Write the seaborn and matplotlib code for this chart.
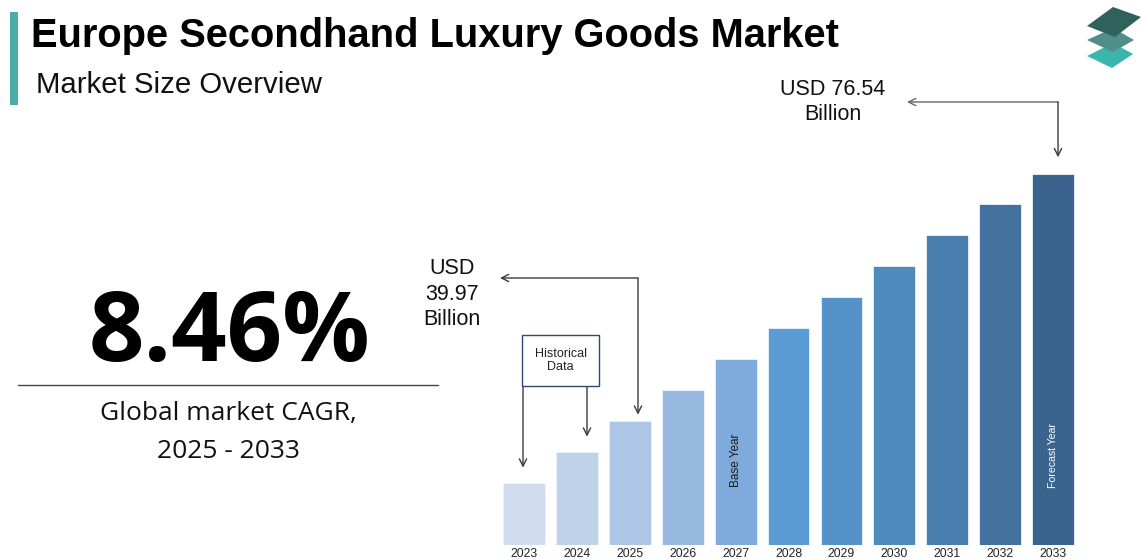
import matplotlib
matplotlib.use("Agg")
import matplotlib.pyplot as plt
from matplotlib.patches import Polygon, Rectangle
import seaborn as sns
import pandas as pd

# ---- data -------------------------------------------------------------
years = ["2023", "2024", "2025", "2026", "2027", "2028",
         "2029", "2030", "2031", "2032", "2033"]
market_size = [30.79, 35.38, 39.97, 44.56, 49.15, 53.74,
               58.33, 62.93, 67.52, 72.11, 76.54]   # USD billion
bar_colors = ["#D0DDEF", "#BED2EA", "#ADC6E6", "#97B9E0", "#7EABDB", "#5A9AD5",
              "#5592C9", "#4F8ABD", "#4A7EAE", "#43729E", "#3A648D"]
cagr_text = "8.46%"
cagr_caption = ["Global market CAGR,", "2025 - 2033"]
base_label = "USD\n39.97\nBillion"
forecast_label = "USD 76.54\nBillion"

df = pd.DataFrame({"year": years, "size": market_size})

W, H = 1142, 559
sns.set_theme(style="white")
plt.rcParams["font.family"] = ["Liberation Sans", "DejaVu Sans"]

fig = plt.figure(figsize=(W / 100, H / 100), dpi=100)
fig.patch.set_facecolor("white")


def fx(x):
    return x / W


def fy(y):
    return 1 - y / H


# ---- bar chart ----------------------------------------------------------
ax_left, ax_right, ax_bottom, ax_top = 497.6, 1079.5, 545, 100
y_floor, px_per_unit = 21.6, 6.754
ax = fig.add_axes([fx(ax_left), fy(ax_bottom), (ax_right - ax_left) / W,
                   (ax_bottom - ax_top) / H])
sns.barplot(data=df, x="year", y="size", hue="year", palette=bar_colors,
            legend=False, width=0.79, saturation=1, ax=ax,
            edgecolor="#EEF3FA", linewidth=0.6)
ax.set_ylim(y_floor, y_floor + (ax_bottom - ax_top) / px_per_unit)
ax.set_xlim(-0.5, len(years) - 0.5)
for s in ax.spines.values():
    s.set_visible(False)
ax.set_xlabel("")
ax.set_ylabel("")
ax.set_yticks([])
ax.tick_params(axis="x", length=0, pad=2, labelsize=8.7, labelcolor="#222222")
ax.set_facecolor("none")

# labels inside bars
ax.text(4, y_floor + (545 - 460) / px_per_unit, "Base Year", rotation=90,
        ha="center", va="center", fontsize=8.5, color="#1A1A1A")
ax.text(10, y_floor + (545 - 455) / px_per_unit, "Forecast Year", rotation=90,
        ha="center", va="center", fontsize=7.6, color="white")

arrow_kw = dict(arrowstyle="->", color="#3A3A3A", lw=1.0, mutation_scale=13,
                shrinkA=0)

# 2025 value callout
cx, cy = 638, H - 278
ax.annotate("", xy=(500, cy), xycoords="figure pixels", xytext=(cx, cy),
            textcoords="figure pixels", arrowprops=dict(arrow_kw, shrinkB=0))
ax.annotate("", xy=(cx, market_size[2]), xycoords=("figure pixels", "data"),
            xytext=(cx, cy), textcoords="figure pixels",
            arrowprops=dict(arrow_kw, shrinkB=4.5))
fig.text(fx(452), fy(294), base_label, ha="center", va="center",
         fontsize=15.5, linespacing=1.26, color="#111111")

# 2033 value callout
cx, cy = 1058, H - 102
ax.annotate("", xy=(907, cy), xycoords="figure pixels", xytext=(cx, cy),
            textcoords="figure pixels", arrowprops=dict(arrow_kw, shrinkB=0,
                                                        color="#666666"))
ax.annotate("", xy=(cx, market_size[10]), xycoords=("figure pixels", "data"),
            xytext=(cx, cy), textcoords="figure pixels",
            arrowprops=dict(arrow_kw, shrinkB=12))
fig.text(fx(833), fy(102), forecast_label, ha="center", va="center",
         fontsize=15.5, linespacing=1.3, color="#111111")

# historical data box
fig.patches.append(Rectangle((fx(522), fy(386)), fx(599) - fx(522),
                             fy(335) - fy(386), transform=fig.transFigure,
                             facecolor="white", edgecolor="#2E4A70", lw=1.0))
fig.text(fx(560.5), fy(360.5), "Historical\nData", ha="center", va="center",
         fontsize=9, linespacing=1.15, color="#222222")
for bx, idx in [(523, 0), (587, 1)]:
    ax.annotate("", xy=(bx, market_size[idx]), xycoords=("figure pixels", "data"),
                xytext=(bx, H - 386), textcoords="figure pixels",
                arrowprops=dict(arrow_kw, shrinkB=11))

# ---- header -----------------------------------------------------------------
fig.patches.append(Rectangle((fx(10), fy(105)), fx(8), fy(12) - fy(105),
                             transform=fig.transFigure, facecolor="#48ADA9",
                             edgecolor="none"))
fig.text(fx(31), fy(47), "Europe Secondhand Luxury Goods Market",
         ha="left", va="baseline", fontsize=28.7, fontweight="bold",
         color="#000000")
fig.text(fx(36), fy(93), "Market Size Overview", ha="left", va="baseline",
         fontsize=21.2, color="#111111")

# logo: stacked layers
layers = [
    ([(1087, 56), (1113, 43), (1133, 54), (1112, 68)], "#3DB5AF"),
    ([(1087, 40), (1113, 28), (1134, 40), (1113, 52)], "#4F8E89"),
    ([(1087, 26), (1113, 7), (1141, 17), (1115, 37)], "#2F625C"),
]
for pts, col in layers:
    fig.patches.append(Polygon([(fx(x), fy(y)) for x, y in pts], closed=True,
                               transform=fig.transFigure, facecolor=col,
                               edgecolor="none"))

# ---- CAGR panel -----------------------------------------------------------
cagr_font = ["Open Sans", "DejaVu Sans"]
fig.text(fx(229), fy(361), cagr_text, ha="center", va="baseline",
         fontsize=70, fontweight="bold", family=cagr_font, color="#000000")
fig.add_artist(plt.Line2D([fx(18), fx(438)], [fy(385), fy(385)],
                          color="#444444", lw=1.0))
fig.text(fx(228), fy(420), cagr_caption[0], ha="center", va="baseline",
         fontsize=19, family=cagr_font, color="#111111")
fig.text(fx(228), fy(458), cagr_caption[1], ha="center", va="baseline",
         fontsize=19, family=cagr_font, color="#111111")

fig.savefig("out.png", dpi=100, facecolor="white")
